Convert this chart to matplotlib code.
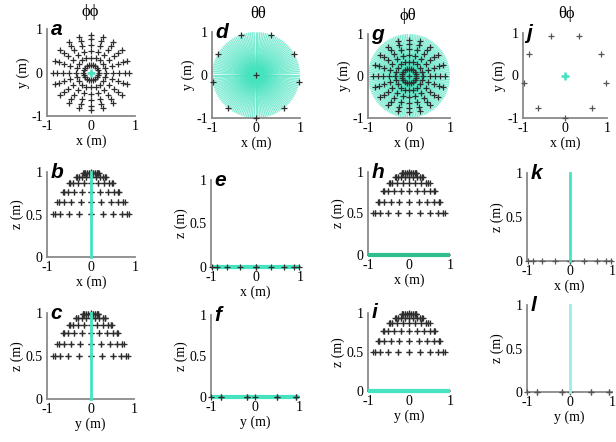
import numpy as np
import matplotlib
matplotlib.use("Agg")
import matplotlib.pyplot as plt

plt.rcParams['font.family'] = ['Liberation Serif', 'DejaVu Serif']

# hemisphere sampling (the phi set): polar angles from +z and azimuths, degrees
polar_deg = [0, 10, 20, 30, 40, 50, 60]
azimuth_deg = np.arange(0, 360, 18)
# equatorial ring (the theta set), degrees
equator_az_deg = [270, 310, 350, 30, 70, 110, 150, 190, 230]
# directions of the cyan fan lying in the xy plane
fan_az_deg = np.arange(0, 360, 2.5)

col_titles = ['\u03d5\u03d5', '\u03b8\u03b8', '\u03d5\u03b8', '\u03b8\u03d5']
letters = [['a', 'b', 'c'], ['d', 'e', 'f'], ['g', 'h', 'i'], ['j', 'k', 'l']]
markers_set = ['hemi', 'ring', 'hemi', 'ring']
cyan_set = ['zline', 'fan', 'fan', 'zline']

# axes boxes in pixels: left, right, top, bottom
boxes = [
    [(47, 135, 29, 116), (47, 135, 172, 257), (47, 134, 313, 399)],
    [(212, 300, 32, 118), (211, 300, 180, 267), (211, 299, 315, 397)],
    [(368, 450, 34, 118), (368, 450, 172, 255), (368, 450, 313, 391)],
    [(523, 607, 33, 118), (527, 612, 173, 261), (527, 612, 305, 392)],
]
title_xy = [(90, 12), (258, 14), (408, 16), (567, 14)]

W, H = 616, 442
CYAN = '#45e3bf'
LIGHT_CYAN = '#9aeee6'
DARK = '#2e2e2e'

# points
hx, hy, hz = [], [], []
for p in polar_deg:
    az_list = [0] if p == 0 else azimuth_deg
    for a in az_list:
        hx.append(np.sin(np.radians(p)) * np.cos(np.radians(a)))
        hy.append(np.sin(np.radians(p)) * np.sin(np.radians(a)))
        hz.append(np.cos(np.radians(p)))
hx, hy, hz = np.array(hx), np.array(hy), np.array(hz)

rx = np.append(np.cos(np.radians(equator_az_deg)), 0.0)
ry = np.append(np.sin(np.radians(equator_az_deg)), 0.0)
rz = np.zeros_like(rx)

fx = np.cos(np.radians(fan_az_deg))
fy = np.sin(np.radians(fan_az_deg))

fig = plt.figure(figsize=(W / 100, H / 100), dpi=100)

views = [('x', 'y'), ('x', 'z'), ('y', 'z')]
for c in range(4):
    if markers_set[c] == 'hemi':
        pts = {'x': hx, 'y': hy, 'z': hz}
    else:
        pts = {'x': rx, 'y': ry, 'z': rz}
    for r in range(3):
        l, rr, t, b = boxes[c][r]
        ax = fig.add_axes([l / W, 1 - b / H, (rr - l) / W, (b - t) / H])
        h_key, v_key = views[r]

        # cyan lines
        if cyan_set[c] == 'fan':
            fan = {'x': fx, 'y': fy, 'z': np.zeros_like(fx)}
            if r == 0:
                for i in range(len(fx)):
                    ax.plot([0, fan[h_key][i]], [0, fan[v_key][i]], color=CYAN,
                            lw=0.9, alpha=0.7, zorder=2, solid_capstyle='butt')
            else:
                ax.plot([fan[h_key].min(), fan[h_key].max()], [0, 0],
                        color=CYAN if c == 1 or r == 2 else '#2fbf8f',
                        lw=3, zorder=4, clip_on=False, solid_capstyle='butt')
        else:
            if r == 0:
                ax.plot([0], [0], marker='+', ms=6, mew=1.8, color=CYAN, zorder=4)
            else:
                ax.plot([0, 0], [0, 1], color=LIGHT_CYAN if (c == 3 and r == 2) else CYAN,
                        lw=2, zorder=4, clip_on=False)

        # source markers
        mcol = DARK if c != 3 else '#555555'
        ax.plot(pts[h_key], pts[v_key], ls='none', marker='+', ms=3.8, mew=0.9,
                color=mcol, zorder=3 if c != 1 else 5, clip_on=False)

        ax.set_xlim(-1, 1)
        if r == 0:
            ax.set_ylim(-1, 1)
            ax.set_yticks([-1, 0, 1])
            ax.set_yticklabels(['-1', '0', '1'])
        else:
            ax.set_ylim(0, 1)
            ax.set_yticks([0, 0.5, 1])
            ax.set_yticklabels(['0', '0.5', '1'])
        ax.set_xticks([-1, 0, 1])
        ax.set_xticklabels(['-1', '0', '1'])
        for s in ['top', 'right']:
            ax.spines[s].set_visible(False)
        for s in ['left', 'bottom']:
            ax.spines[s].set_color('#8a8a8a')
            ax.spines[s].set_linewidth(1.3)
        ax.tick_params(length=0, labelsize=10, pad=3)
        ax.set_xlabel(h_key + ' (m)', fontsize=10, labelpad=1)
        ax.set_ylabel(v_key + ' (m)', fontsize=10, labelpad=1)
        ax.set_facecolor('none')
        ax.text(0.04, 0.93, letters[c][r], transform=ax.transAxes,
                fontsize=15, fontweight='bold', fontstyle='italic',
                family=['Liberation Sans', 'DejaVu Sans'], va='baseline', zorder=6)

for c in range(4):
    fig.text(title_xy[c][0] / W, 1 - title_xy[c][1] / H, col_titles[c],
             ha='center', va='center', fontsize=12)

fig.savefig('out.png', dpi=100)
